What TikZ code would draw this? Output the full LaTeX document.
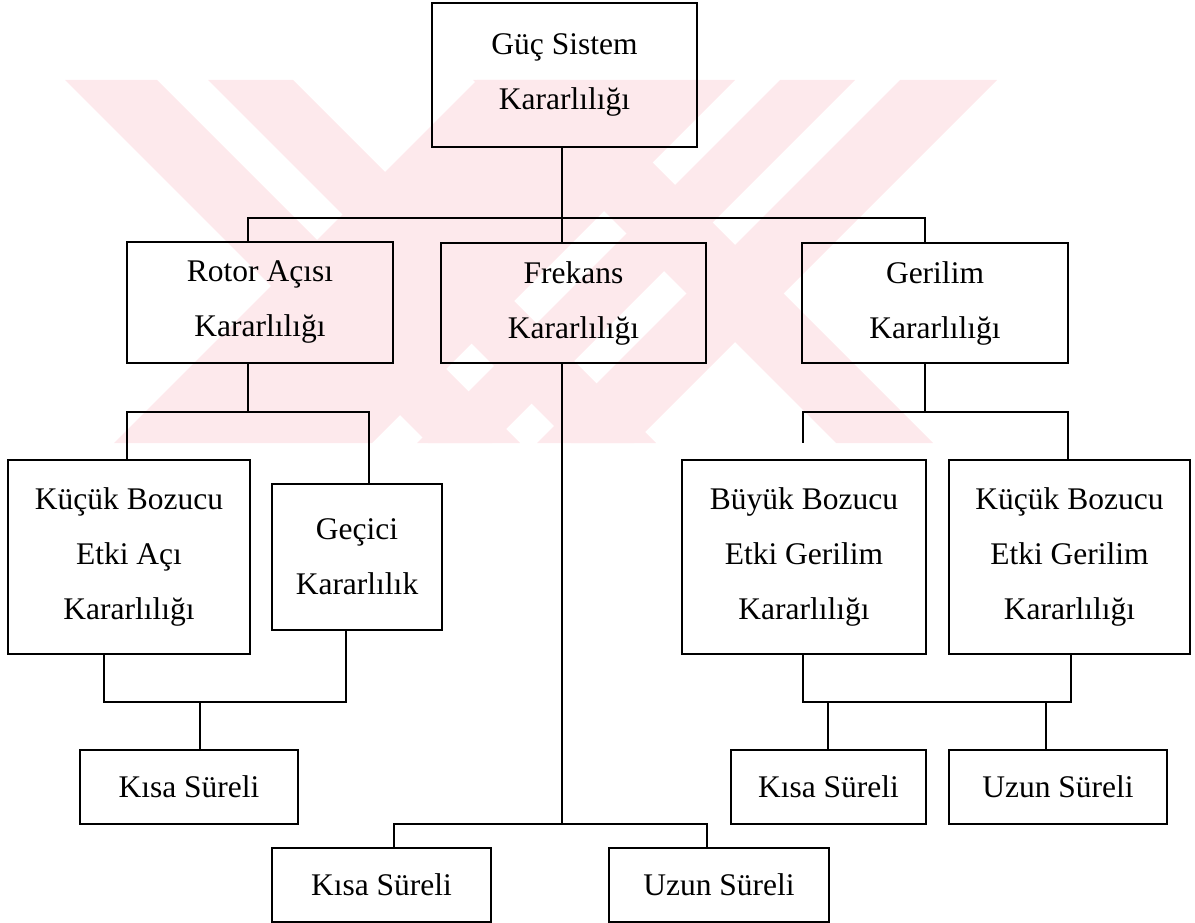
\documentclass[tikz,border=0pt]{standalone}
\usepackage{fontspec}
\setmainfont{Liberation Serif}
\definecolor{wm}{RGB}{253,233,236}
\begin{document}
\begin{tikzpicture}[x=1pt,y=-1pt,
  box/.style={draw, line width=2.6pt, align=center, inner sep=0pt, font=\fontsize{31.5}{55}\selectfont},
  conn/.style={line width=2.6pt, line cap=rect},
  wmfill/.style={fill=wm, draw=none}]
\useasboundingbox (0,0) rectangle (1195,923);
% watermark
\begin{scope}
\clip (0,80) rectangle (1195,443);
\foreach \a/\b in {-15/77, 128/213, 393/490} {
  \fill[wmfill] (\a+80,80) -- (\b+80,80) -- (\b+443,443) -- (\a+443,443) -- cycle;
}
\foreach \c/\d in {557/815, 860/935, 980/1077} {
  \fill[wmfill] (\c-80,80) -- (\d-80,80) -- (\d-443,443) -- (\c-443,443) -- cycle;
}
\end{scope}
% boxes
\node[box, minimum width=265pt, minimum height=144pt] (top) at (564.5,75) {Güç Sistem\\Kararlılığı};
\node[box, minimum width=266pt, minimum height=121pt] (rotor) at (260,302.5) {Rotor Açısı\\Kararlılığı};
\node[box, minimum width=265pt, minimum height=120pt] (frek) at (573.5,303) {Frekans\\Kararlılığı};
\node[box, minimum width=266pt, minimum height=120pt] (geril) at (935,303) {Gerilim\\Kararlılığı};
\node[box, minimum width=242pt, minimum height=194pt] (kucukA) at (129,557) {Küçük Bozucu\\Etki Açı\\Kararlılığı};
\node[box, minimum width=170pt, minimum height=146pt] (gecici) at (357,557) {Geçici\\Kararlılık};
\node[box, minimum width=218pt, minimum height=74pt] (kisaA) at (189,787) {Kısa Süreli};
\node[box, minimum width=219pt, minimum height=74pt] (kisaF) at (381.5,885) {Kısa Süreli};
\node[box, minimum width=220pt, minimum height=74pt] (uzunF) at (719,885) {Uzun Süreli};
\node[box, minimum width=244pt, minimum height=194pt] (buyuk) at (804,557) {Büyük Bozucu\\Etki Gerilim\\Kararlılığı};
\node[box, minimum width=241pt, minimum height=194pt] (kucukG) at (1069.5,557) {Küçük Bozucu\\Etki Gerilim\\Kararlılığı};
\node[box, minimum width=195pt, minimum height=74pt] (kisaG) at (828.5,787) {Kısa Süreli};
\node[box, minimum width=218pt, minimum height=74pt] (uzunG) at (1058,787) {Uzun Süreli};
% junction coordinates
\coordinate (b1L) at (248,218); \coordinate (b1C) at (562,218); \coordinate (b1R) at (925,218);
\coordinate (r1) at (248,412); \coordinate (r1L) at (127,412); \coordinate (r1R) at (369,412);
\coordinate (u1L) at (104,702); \coordinate (u1R) at (346,702); \coordinate (u1C) at (200,702);
\coordinate (f1) at (562,824); \coordinate (f1L) at (394,824); \coordinate (f1R) at (707,824);
\coordinate (g1) at (925,412); \coordinate (g1L) at (803,412); \coordinate (g1R) at (1068,412); \coordinate (g1E) at (803,442);
\coordinate (v1L) at (803,702); \coordinate (v1R) at (1071,702); \coordinate (v1a) at (828,702); \coordinate (v1b) at (1046,702);
% connectors
\draw[conn] (top.south -| b1C) -- (b1C);
\draw[conn] (b1L |- rotor.north) -- (b1L) -- (b1R) -- (b1R |- geril.north);
\draw[conn] (b1C) -- (b1C |- frek.north);
\draw[conn] (rotor.south -| r1) -- (r1);
\draw[conn] (r1L |- kucukA.north) -- (r1L) -- (r1R) -- (r1R |- gecici.north);
\draw[conn] (kucukA.south -| u1L) -- (u1L) -- (u1R) -- (gecici.south -| u1R);
\draw[conn] (u1C) -- (u1C |- kisaA.north);
\draw[conn] (frek.south -| f1) -- (f1);
\draw[conn] (f1L |- kisaF.north) -- (f1L) -- (f1R) -- (f1R |- uzunF.north);
\draw[conn] (geril.south -| g1) -- (g1);
\draw[conn] (g1E) -- (g1L) -- (g1R) -- (g1R |- kucukG.north);
\draw[conn] (buyuk.south -| v1L) -- (v1L) -- (v1R) -- (kucukG.south -| v1R);
\draw[conn] (v1a) -- (v1a |- kisaG.north);
\draw[conn] (v1b) -- (v1b |- uzunG.north);
\end{tikzpicture}
\end{document}
